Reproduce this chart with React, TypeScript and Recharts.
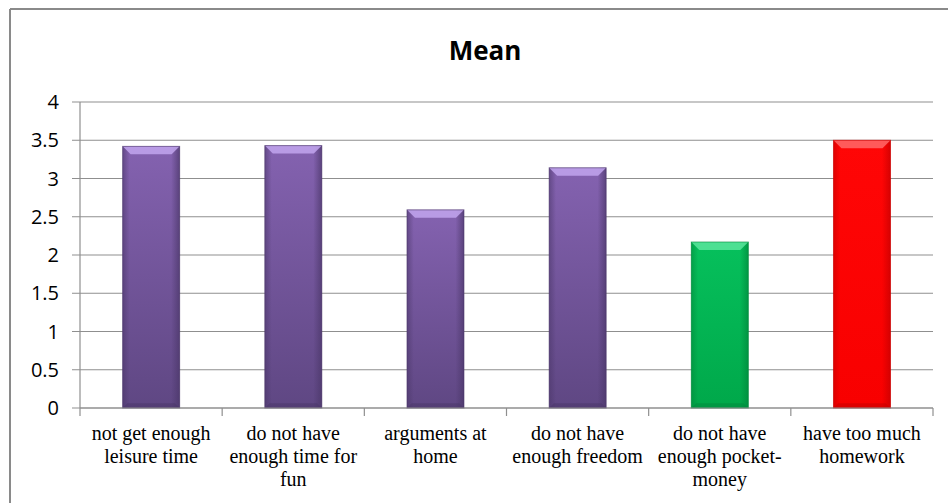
import React from 'react';
import { BarChart, Bar, XAxis, YAxis, CartesianGrid, Cell } from 'recharts';

const categories = [
  'not get enough\nleisure time',
  'do not have\nenough time for\nfun',
  'arguments at\nhome',
  'do not have\nenough freedom',
  'do not have\nenough pocket-\nmoney',
  'have too much\nhomework',
];
const meanValues = [3.42, 3.43, 2.59, 3.14, 2.17, 3.5];
const yTicks = [0, 0.5, 1, 1.5, 2, 2.5, 3, 3.5, 4];

const data = categories.map((name, i) => ({ name, mean: meanValues[i] }));

// colour sets for the bevelled bars: main top, main bottom, light bevel, dark edge
const purple = { top: '#8462B0', bottom: '#5F4783', light: '#C2A6EE', dark: '#4A3668' };
const green = { top: '#06C05C', bottom: '#00A84A', light: '#5BE59C', dark: '#00873B' };
const red = { top: '#FF0606', bottom: '#F80000', light: '#FF6A6A', dark: '#C40000' };
const barColors = [purple, purple, purple, purple, green, red];

const GRID = '#8f8f8f';
const CHART_W = 948;
const MARGIN = { top: 102, right: 15, left: 20, bottom: 5 };
const Y_WIDTH = 60;
const STEP = (CHART_W - MARGIN.left - MARGIN.right - Y_WIDTH) / categories.length;
const SERIF = 'Liberation Serif, Tinos, DejaVu Serif, serif';

const BevelBar = (props: any) => {
  const { x, y, width, height, index } = props;
  if (!height || height <= 0) return null;
  const c = barColors[index] || purple;
  const b = Math.min(8, width / 5);
  const id = `bar-${index}`;
  return (
    <g>
      <defs>
        <linearGradient id={`${id}-v`} x1="0" y1="0" x2="0" y2="1">
          <stop offset="0%" stopColor={c.top} />
          <stop offset="100%" stopColor={c.bottom} />
        </linearGradient>
        <linearGradient id={`${id}-h`} x1="0" y1="0" x2="1" y2="0">
          <stop offset="0%" stopColor={c.dark} stopOpacity={0.55} />
          <stop offset="12%" stopColor={c.dark} stopOpacity={0} />
          <stop offset="85%" stopColor={c.dark} stopOpacity={0} />
          <stop offset="100%" stopColor={c.dark} stopOpacity={0.7} />
        </linearGradient>
      </defs>
      <rect x={x} y={y} width={width} height={height} fill={`url(#${id}-v)`} />
      <rect x={x} y={y} width={width} height={height} fill={`url(#${id}-h)`} />
      <polygon
        points={`${x},${y} ${x + width},${y} ${x + width - b},${y + b} ${x + b},${y + b}`}
        fill={c.light}
        opacity={0.85}
      />
      <polygon
        points={`${x},${y + height} ${x + width},${y + height} ${x + width - b * 0.6},${y + height - b * 0.6} ${x + b * 0.6},${y + height - b * 0.6}`}
        fill={c.dark}
        opacity={0.5}
      />
      <rect x={x} y={y} width={width} height={height} fill="none" stroke={c.dark} strokeOpacity={0.6} strokeWidth={1} />
    </g>
  );
};

// category label plus the small tick marks at the category boundaries
const CategoryTick = (props: any) => {
  const { x, y, payload, index } = props;
  const lines = String(payload.value).split('\n');
  const last = index === categories.length - 1;
  return (
    <g>
      <line x1={x - STEP / 2} y1={y} x2={x - STEP / 2} y2={y + 8} stroke={GRID} strokeWidth={1.2} />
      {last && <line x1={x + STEP / 2} y1={y} x2={x + STEP / 2} y2={y + 8} stroke={GRID} strokeWidth={1.2} />}
      <text x={x} y={y} textAnchor="middle" fontFamily={SERIF} fontSize={20} fill="#000">
        {lines.map((line, i) => (
          <tspan key={i} x={x} dy={i === 0 ? 32 : 23}>
            {line}
          </tspan>
        ))}
      </text>
    </g>
  );
};

export default function App() {
  return (
    <div style={{ position: 'absolute', left: 0, top: 0, width: 948, height: 503, overflow: 'hidden', background: '#fff' }}>
      <BarChart
        width={CHART_W}
        height={503}
        data={data}
        margin={MARGIN}
        barCategoryGap="30%"
      >
        <CartesianGrid vertical={false} stroke={GRID} strokeWidth={1.2} />
        <XAxis
          dataKey="name"
          interval={0}
          axisLine={{ stroke: GRID, strokeWidth: 1.2 }}
          tickLine={false}
          tickSize={0}
          tickMargin={0}
          height={90}
          tick={<CategoryTick />}
        />
        <YAxis
          domain={[0, 4]}
          ticks={yTicks}
          width={Y_WIDTH}
          tickSize={8}
          tickMargin={13}
          stroke={GRID}
          axisLine={{ stroke: GRID, strokeWidth: 1.2 }}
          tick={{ fill: '#000', fontSize: 20, fontFamily: 'Open Sans, sans-serif' }}
        />
        <Bar dataKey="mean" shape={<BevelBar />} isAnimationActive={false}>
          {data.map((d, i) => (
            <Cell key={d.name} fill={barColors[i].top} />
          ))}
        </Bar>
      </BarChart>
      <svg
        width={948}
        height={503}
        style={{ position: 'absolute', left: 0, top: 0, pointerEvents: 'none' }}
      >
        <line x1={10} y1={9} x2={948} y2={9} stroke="#8a8a8a" strokeWidth={2} />
        <line x1={10} y1={9} x2={10} y2={503} stroke="#8a8a8a" strokeWidth={2} />
        <text
          x={485}
          y={60}
          textAnchor="middle"
          fontFamily="Open Sans, sans-serif"
          fontWeight="bold"
          fontSize={26}
          fill="#000"
        >
          Mean
        </text>
      </svg>
    </div>
  );
}
